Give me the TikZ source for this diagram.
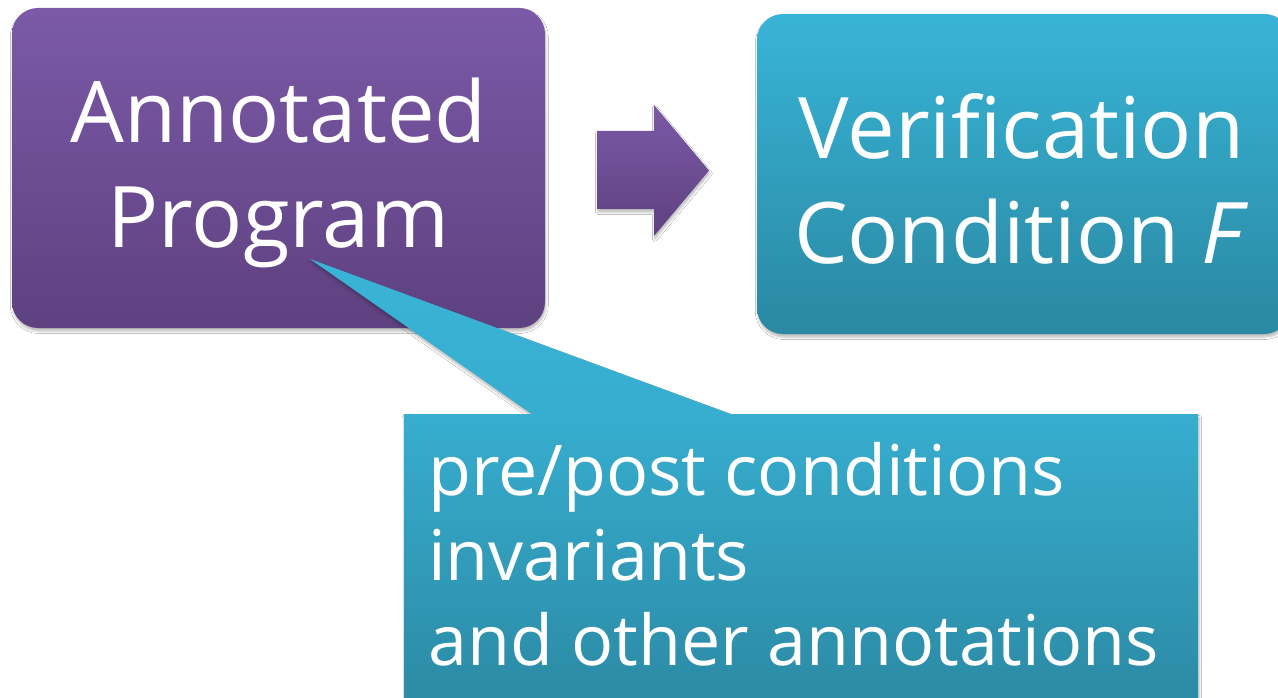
\documentclass[tikz,border=0pt]{standalone}
\usepackage{fontspec}
\setmainfont{Open Sans}
\usetikzlibrary{shadows.blur,calc}

\definecolor{plumtop}{HTML}{7B59A7}
\definecolor{plumbottom}{HTML}{5E4180}
\definecolor{tealtop}{HTML}{38B4D7}
\definecolor{tealbottom}{HTML}{2A88A2}
\definecolor{notetop}{HTML}{37ADCF}
\definecolor{notebottom}{HTML}{2B88A2}

\tikzset{
  softshadow/.style={blur shadow={shadow xshift=0.8pt, shadow yshift=-3pt,
      shadow blur radius=2.5pt, shadow opacity=28}},
  stagebox/.style={rectangle, rounded corners=26pt, minimum width=533pt,
      minimum height=320pt, inner sep=0pt, softshadow},
  plumfill/.style={top color=plumtop, bottom color=plumbottom},
  tealfill/.style={top color=tealtop, bottom color=tealbottom},
  bigtext/.style={text=white, align=center, inner sep=0pt,
      font=\fontsize{85}{105}\selectfont},
  notetext/.style={text=white, align=left, inner sep=0pt,
      font=\fontsize{70}{85}\selectfont},
}

\begin{document}
\begin{tikzpicture}[x=1pt, y=-1pt]
  \useasboundingbox (0,0) rectangle (1278,698);
  \clip (0,0) rectangle (1278,698);
  \fill[white] (0,0) rectangle (1278,698);

  % the two stages
  \node[stagebox, plumfill] (prog) at (278.5,168) {};
  \node[bigtext] (progtext) at ($(prog.center)+(0,5)$) {Annotated\\Program};

  \node[stagebox, tealfill] (vc) at (1023.5,174) {};
  \node[bigtext] (vctext) at ($(vc.center)+(-2,5)$) {Verification\\Condition \textit{F}};

  % block arrow between the stages
  \path[top color=plumtop, bottom color=plumbottom, softshadow]
    (597,131) -- (654,131) -- (654,105) -- (709,170.5) -- (654,236)
    -- (654,209) -- (597,209) -- cycle;

  % callout with its pointer into the program box
  \coordinate (tip) at (310,259);
  \node[rectangle, minimum width=794pt, minimum height=305pt, inner sep=0pt]
    (notes) at (801,567.5) {};
  \path[top color=tealtop, bottom color=notetop, softshadow]
    ($(notes.north west)+(129,0)$) -- (tip) -- ($(notes.north west)+(329,0)$) -- cycle;
  \path[top color=notetop, bottom color=notebottom, softshadow]
    (notes.north west) rectangle (notes.south east);
  \node[notetext, anchor=north west] (notestext) at (428,442.5)
    {pre/post conditions\\invariants\\and other annotations};
\end{tikzpicture}
\end{document}
